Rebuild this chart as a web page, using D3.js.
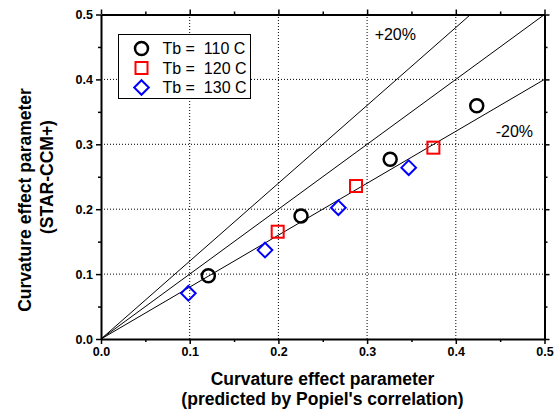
<!DOCTYPE html>
<html><head><meta charset="utf-8">
<script src="https://cdn.jsdelivr.net/npm/d3@7"></script>
<style>
body{margin:0;background:#fff;}
text{font-family:"Liberation Sans",Arial,sans-serif;}
</style></head>
<body><svg id="c" width="556" height="412"></svg>
<script>
const seriesNames = ["Tb =  110 C", "Tb =  120 C", "Tb =  130 C"];
const popiel110 = [0.121, 0.2255, 0.326, 0.4236];
const star110   = [0.0975, 0.1895, 0.277, 0.3595];
const popiel120 = [0.1992, 0.2875, 0.3747];
const star120   = [0.1653, 0.2357, 0.2948];
const popiel130 = [0.0985, 0.1849, 0.2676, 0.3469];
const star130   = [0.0704, 0.137, 0.2023, 0.264];
const refFactors = [1.2, 1.0, 0.8];
const refLabels = ["+20%", "-20%"];
const majorTicks = [0, 0.1, 0.2, 0.3, 0.4, 0.5];
const minorTicks = [0.05, 0.15, 0.25, 0.35, 0.45];
const tickLabels = ["0.0", "0.1", "0.2", "0.3", "0.4", "0.5"];

const svg = d3.select("#c");
const x = d3.scaleLinear().domain([0, 0.5]).range([101, 544.5]);
const y = d3.scaleLinear().domain([0, 0.5]).range([339, 14.5]);

// grid
const grid = svg.append("g").attr("stroke", "#000").attr("stroke-width", 1).attr("stroke-dasharray", "1,2");
[0.1, 0.2, 0.3, 0.4].forEach(v => {
  grid.append("line").attr("x1", x(v)).attr("x2", x(v)).attr("y1", y(0)).attr("y2", y(0.5));
  grid.append("line").attr("x1", x(0)).attr("x2", x(0.5)).attr("y1", y(v)).attr("y2", y(v));
});

// reference lines
svg.append("clipPath").attr("id", "clip").append("rect")
  .attr("x", x(0)).attr("y", y(0.5)).attr("width", x(0.5) - x(0)).attr("height", y(0) - y(0.5));
const line = d3.line().x(d => x(d[0])).y(d => y(d[1]));
refFactors.forEach(f => {
  const xe = Math.min(0.5, 0.5 / f);
  svg.append("path").attr("clip-path", "url(#clip)")
    .attr("d", line([[0, 0], [xe, xe * f]]))
    .attr("fill", "none").attr("stroke", "#000").attr("stroke-width", 1);
});
svg.append("text").attr("x", x(0.3085)).attr("y", y(0.4605)).attr("font-size", 16).text(refLabels[0]);
svg.append("text").attr("x", x(0.445)).attr("y", y(0.3105)).attr("font-size", 16).text(refLabels[1]);

// axes
function mkAxis(gen, scale, tickVals, size, fmt) {
  return gen(scale).tickValues(tickVals).tickSizeInner(size).tickSizeOuter(0).tickPadding(3).tickFormat(fmt);
}
const lab = d => tickLabels[majorTicks.indexOf(d)];
const none = () => "";
const axes = [
  {t: `translate(0,${y(0)})`, g: d3.axisBottom, s: x, lbl: true},
  {t: `translate(0,${y(0.5)})`, g: d3.axisTop, s: x, lbl: false},
  {t: `translate(${x(0)},0)`, g: d3.axisLeft, s: y, lbl: true},
  {t: `translate(${x(0.5)},0)`, g: d3.axisRight, s: y, lbl: false}
];
axes.forEach(a => {
  const gMin = svg.append("g").attr("transform", a.t).call(mkAxis(a.g, a.s, minorTicks, 3, none));
  gMin.select(".domain").remove();
  gMin.selectAll("line").attr("stroke-width", 1.5);
  const gMaj = svg.append("g").attr("transform", a.t).call(mkAxis(a.g, a.s, majorTicks, 5, a.lbl ? lab : none));
  gMaj.select(".domain").attr("stroke-width", 2);
  gMaj.selectAll("line").attr("stroke-width", 1.5);
  gMaj.selectAll("text").attr("font-size", 12.5).attr("font-weight", "bold")
    .attr("font-family", '"Liberation Sans",Arial,sans-serif').attr("fill", "#000");
});

// markers
const circ = (g) => g.append("circle").attr("r", 6.5).attr("fill", "none").attr("stroke", "#000").attr("stroke-width", 2.5);
const sq = (g) => g.append("rect").attr("x", -6).attr("y", -6).attr("width", 12).attr("height", 12).attr("fill", "none").attr("stroke", "#f00").attr("stroke-width", 2);
const dia = (g) => g.append("path").attr("d", "M0,-7.3L7.3,0L0,7.3L-7.3,0Z").attr("fill", "none").attr("stroke", "#00f").attr("stroke-width", 2);

const sets = [
  {xs: popiel110, ys: star110, m: circ},
  {xs: popiel120, ys: star120, m: sq},
  {xs: popiel130, ys: star130, m: dia}
];
sets.forEach(s => {
  s.xs.forEach((xv, i) => {
    const g = svg.append("g").attr("transform", `translate(${x(xv)},${y(s.ys[i])})`);
    s.m(g);
  });
});

// legend
svg.append("rect").attr("x", 118.5).attr("y", 34.5).attr("width", 132).attr("height", 64)
  .attr("fill", "#fff").attr("stroke", "#000").attr("stroke-width", 1);
sets.forEach((s, i) => {
  const cy = 48.5 + i * 19.5;
  const g = svg.append("g").attr("transform", `translate(141.5,${cy})`);
  s.m(g);
  svg.append("text").attr("x", 162.5).attr("y", cy + 5.5).attr("font-size", 16)
    .style("white-space", "pre").attr("xml:space", "preserve").text(seriesNames[i]);
});

// axis titles
svg.append("text").attr("x", 322.5).attr("y", 385).attr("text-anchor", "middle")
  .attr("font-size", 17.5).attr("font-weight", "bold").text("Curvature effect parameter");
svg.append("text").attr("x", 322.5).attr("y", 405).attr("text-anchor", "middle")
  .attr("font-size", 17.5).attr("font-weight", "bold").text("(predicted by Popiel's correlation)");
svg.append("text").attr("transform", "translate(31,200) rotate(-90)").attr("text-anchor", "middle")
  .attr("font-size", 17.5).attr("font-weight", "bold").text("Curvature effect parameter");
svg.append("text").attr("transform", "translate(53,177) rotate(-90)").attr("text-anchor", "middle")
  .attr("font-size", 17.5).attr("font-weight", "bold").text("(STAR-CCM+)");
</script></body></html>
